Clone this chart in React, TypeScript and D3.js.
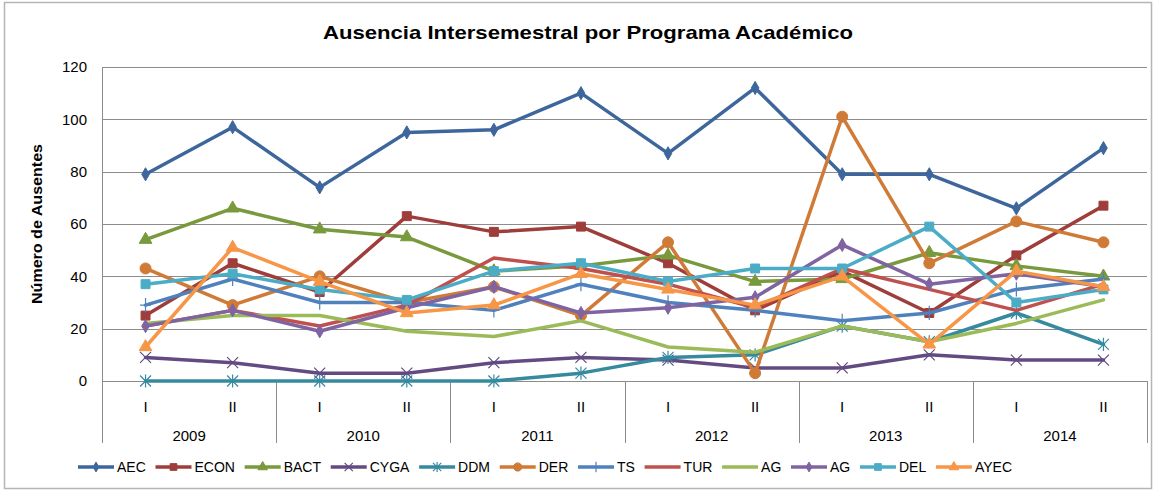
import React, { useEffect, useRef } from "react";
import * as d3 from "d3";

const semesters = ["I", "II", "I", "II", "I", "II", "I", "II", "I", "II", "I", "II"];
const years = ["2009", "2010", "2011", "2012", "2013", "2014"];
const yTicks = [0, 20, 40, 60, 80, 100, 120];

const AEC = [79, 97, 74, 95, 96, 110, 87, 112, 79, 79, 66, 89];
const ECON = [25, 45, 34, 63, 57, 59, 45, 27, 42, 26, 48, 67];
const BACT = [54, 66, 58, 55, 42, 44, 48, 38, 39, 49, 44, 40];
const CYGA = [9, 7, 3, 3, 7, 9, 8, 5, 5, 10, 8, 8];
const DDM = [0, 0, 0, 0, 0, 3, 9, 10, 21, 15, 26, 14];
const DER = [43, 29, 40, 30, 36, 25, 53, 3, 101, 45, 61, 53];
const TS = [29, 39, 30, 30, 27, 37, 30, 27, 23, 26, 35, 39];
const TUR = [21, 27, 21, 29, 47, 43, 37, 28, 43, 35, 27, 37];
const AG1 = [22, 25, 25, 19, 17, 23, 13, 11, 21, 15, 22, 31];
const AG2 = [21, 27, 19, 28, 36, 26, 28, 32, 52, 37, 41, 36];
const DEL = [37, 41, 35, 31, 42, 45, 38, 43, 43, 59, 30, 35];
const AYEC = [13, 51, 38, 26, 29, 41, 35, 29, 40, 14, 42, 36];

const seriesNames = ["AEC", "ECON", "BACT", "CYGA", "DDM", "DER", "TS", "TUR", "AG", "AG", "DEL", "AYEC"];
const seriesValues = [AEC, ECON, BACT, CYGA, DDM, DER, TS, TUR, AG1, AG2, DEL, AYEC];
const seriesColors = ["#3D679C", "#9E3D3A", "#789A3D", "#634B82", "#368AA0", "#CF7B37", "#4F81BD", "#C0504D", "#9BBB59", "#8064A2", "#4BACC6", "#F79646"];
const seriesMarkers = ["diamond", "square", "triangle", "x", "star", "circle", "plus", "none", "none", "diamond", "square", "triangle"];

const W = 1157;
const H = 492;
const FONT = "'Liberation Sans', Arial, sans-serif";

function drawMarker(g: any, type: string, x: number, y: number, color: string, scale: number) {
  const sym = (t: any, size: number) =>
    g.append("path")
      .attr("d", d3.symbol().type(t).size(size * scale * scale)())
      .attr("transform", `translate(${x},${y})`)
      .attr("fill", color)
      .attr("stroke", color)
      .attr("stroke-width", 1);
  const r = 5.5 * scale;
  if (type === "diamond") sym(d3.symbolDiamond, 50);
  else if (type === "square") sym(d3.symbolSquare, 80);
  else if (type === "triangle") sym(d3.symbolTriangle, 70);
  else if (type === "circle") sym(d3.symbolCircle, 95);
  else if (type === "x") {
    g.append("path")
      .attr("d", `M${x - r},${y - r}L${x + r},${y + r}M${x - r},${y + r}L${x + r},${y - r}`)
      .attr("stroke", color).attr("stroke-width", 1.2).attr("fill", "none");
  } else if (type === "star") {
    g.append("path")
      .attr("d", `M${x - r},${y - r}L${x + r},${y + r}M${x - r},${y + r}L${x + r},${y - r}M${x},${y - r * 1.2}L${x},${y + r * 1.2}`)
      .attr("stroke", color).attr("stroke-width", 1.2).attr("fill", "none");
  } else if (type === "plus") {
    g.append("path")
      .attr("d", `M${x - r},${y}L${x + r},${y}M${x},${y - r * 1.3}L${x},${y + r * 1.3}`)
      .attr("stroke", color).attr("stroke-width", 1.2).attr("fill", "none");
  }
}

export default function App() {
  const ref = useRef<SVGSVGElement | null>(null);

  useEffect(() => {
    const svg = d3.select(ref.current);
    svg.selectAll("*").remove();

    const left = 102, right = 1147, top = 67, bottom = 381;
    const x = d3.scaleBand<number>().domain(d3.range(semesters.length)).range([left, right]);
    const cx = (i: number) => (x(i) as number) + x.bandwidth() / 2;
    const y = d3.scaleLinear().domain([0, 120]).range([bottom, top]);

    svg.append("rect").attr("x", 0).attr("y", 0).attr("width", W).attr("height", H).attr("fill", "#ffffff");
    svg.append("rect").attr("x", 4.5).attr("y", 2.5).attr("width", 1147).attr("height", 486)
      .attr("fill", "#ffffff").attr("stroke", "#b5b5b5").attr("stroke-width", 1.5);

    // gridlines
    svg.append("g").selectAll("line").data(yTicks).join("line")
      .attr("x1", left).attr("x2", right)
      .attr("y1", (d) => Math.round(y(d)) + 0.5).attr("y2", (d) => Math.round(y(d)) + 0.5)
      .attr("stroke", "#8c8c8c").attr("stroke-width", 1);
    // y axis line
    svg.append("line").attr("x1", left + 0.5).attr("x2", left + 0.5).attr("y1", top).attr("y2", bottom)
      .attr("stroke", "#8c8c8c");
    // y tick labels
    svg.append("g").selectAll("text").data(yTicks).join("text")
      .attr("x", 87).attr("y", (d) => y(d)).attr("dy", "0.35em")
      .attr("text-anchor", "end").attr("font-family", FONT).attr("font-size", 15).attr("fill", "#000")
      .text((d) => String(d));

    // year separators
    const yearBounds = d3.range(years.length + 1).map((k) => (k < years.length ? (x(k * 2) as number) : right));
    svg.append("g").selectAll("line").data(yearBounds).join("line")
      .attr("x1", (d) => Math.round(d) + 0.5).attr("x2", (d) => Math.round(d) + 0.5)
      .attr("y1", bottom).attr("y2", 443).attr("stroke", "#8c8c8c");

    // semester labels
    svg.append("g").selectAll("text").data(semesters).join("text")
      .attr("x", (_, i) => cx(i)).attr("y", 407).attr("dy", "0.35em")
      .attr("text-anchor", "middle").attr("font-family", FONT).attr("font-size", 15).attr("fill", "#000")
      .text((d) => d);
    svg.append("g").selectAll("text").data(years).join("text")
      .attr("x", (_, k) => (yearBounds[k] + yearBounds[k + 1]) / 2).attr("y", 436).attr("dy", "0.35em")
      .attr("text-anchor", "middle").attr("font-family", FONT).attr("font-size", 15).attr("fill", "#000")
      .text((d) => d);

    // title
    svg.append("text").attr("x", 588).attr("y", 32).attr("dy", "0.35em")
      .attr("text-anchor", "middle").attr("font-family", FONT).attr("font-size", 19).attr("font-weight", "bold")
      .attr("textLength", 530).attr("lengthAdjust", "spacingAndGlyphs")
      .text("Ausencia Intersemestral por Programa Académico");
    // y label
    svg.append("text").attr("transform", "translate(37,224) rotate(-90)").attr("dy", "0.35em")
      .attr("text-anchor", "middle").attr("font-family", FONT).attr("font-size", 14).attr("font-weight", "bold")
      .attr("textLength", 160).attr("lengthAdjust", "spacingAndGlyphs")
      .text("Número de Ausentes");

    // series
    const line = d3.line<number>().x((_, i) => cx(i)).y((d) => y(d));
    seriesValues.forEach((vals, s) => {
      const g = svg.append("g");
      g.append("path").attr("d", line(vals)).attr("fill", "none")
        .attr("stroke", seriesColors[s]).attr("stroke-width", 3.5).attr("stroke-linejoin", "round").attr("stroke-linecap", "round");
      vals.forEach((v, i) => drawMarker(g, seriesMarkers[s], cx(i), y(v), seriesColors[s], 1));
    });

    // legend
    const ly = 467;
    const lg = svg.append("g");
    const items = seriesNames.map((name, s) => {
      const it = lg.append("g");
      it.append("line").attr("x1", 0).attr("x2", 36).attr("y1", ly).attr("y2", ly)
        .attr("stroke", seriesColors[s]).attr("stroke-width", 3.5);
      drawMarker(it, seriesMarkers[s], 18, ly, seriesColors[s], 0.75);
      const t = it.append("text").attr("x", 39).attr("y", ly).attr("dy", "0.35em")
        .attr("font-family", FONT).attr("font-size", 14).attr("fill", "#000").text(name);
      const tw = (t.node() as SVGTextElement).getComputedTextLength();
      return { it, w: 39 + tw };
    });
    const startX = 78, endX = 1012;
    const total = d3.sum(items, (d) => d.w);
    const gap = (endX - startX - total) / (items.length - 1);
    let cur = startX;
    items.forEach((d) => {
      d.it.attr("transform", `translate(${cur},0)`);
      cur += d.w + gap;
    });
  }, []);

  return (
    <svg ref={ref} width={W} height={H} style={{ position: "fixed", left: 0, top: 0, display: "block" }} />
  );
}
